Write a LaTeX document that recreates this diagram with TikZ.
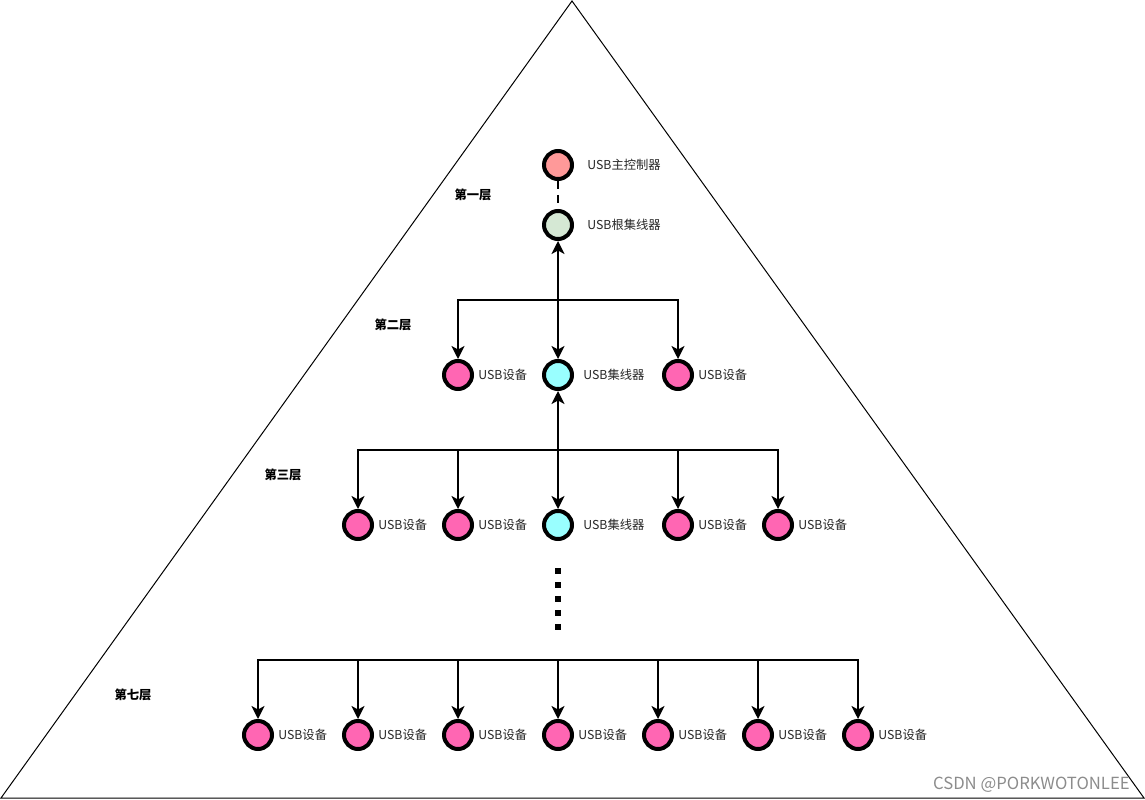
\documentclass[tikz,border=0pt]{standalone}
\usepackage{fontspec}
\newfontfamily\cjk{Noto Sans CJK SC}
\usetikzlibrary{arrows.meta, positioning}
\definecolor{ctrlfill}{HTML}{FF9999}
\definecolor{rootfill}{HTML}{D5E8D4}
\definecolor{hubfill}{HTML}{99FFFF}
\definecolor{devfill}{HTML}{FF66B3}
\tikzset{
  usbnode/.style={
    circle,
    draw=black,
    line width=0.08cm,
    minimum size=0.56cm,
    inner sep=0pt,
  },
  ctrlnode/.style={usbnode, fill=ctrlfill},
  rootnode/.style={usbnode, fill=rootfill},
  hubnode/.style={usbnode, fill=hubfill},
  devnode/.style={usbnode, fill=devfill},
  nlabel/.style={font=\cjk\fontsize{7}{8}\selectfont, anchor=west, inner sep=0pt, text=black!85},
  layerlabel/.style={font=\cjk\bfseries\fontsize{7}{8}\selectfont, inner sep=0pt},
  arr/.style={-{Stealth[length=2.6mm, width=2.6mm, inset=0.7mm]}, line width=0.045cm},
  darr/.style={{Stealth[length=2.6mm, width=2.6mm, inset=0.7mm]}-{Stealth[length=2.6mm, width=2.6mm, inset=0.7mm]}, line width=0.045cm},
}

\begin{document}
\begin{tikzpicture}[x=0.02cm, y=-0.02cm]
\useasboundingbox (0,0) rectangle (1145,800);

% --- Outer pyramid ---
\draw[line width=0.02cm] (572,1) -- (1,798) -- (1144,798) -- cycle;

% --- Layer captions ---
\node[layerlabel] (layer1) at (473,195) {第一层};
\node[layerlabel] (layer2) at (393,325) {第二层};
\node[layerlabel] (layer3) at (283,475) {第三层};
\node[layerlabel] (layer7) at (133,695) {第七层};

% --- Host controller and root hub ---
\node[ctrlnode] (ctrl) at (558,165) {};
\node[nlabel] (ctrllbl) at (587,165) {USB主控制器};
\node[rootnode] (root) at (558,225) {};
\node[nlabel] (rootlbl) at (587,225) {USB根集线器};

% --- Second layer ---
\node[devnode] (dev2a) at (458,375) {};
\node[nlabel] (dev2albl) at (478,375) {USB设备};
\node[hubnode] (hub2) at (558,375) {};
\node[nlabel] (hub2lbl) at (583,375) {USB集线器};
\node[devnode] (dev2b) at (678,375) {};
\node[nlabel] (dev2blbl) at (698,375) {USB设备};

% --- Third layer ---
\node[devnode] (dev3a) at (358,525) {};
\node[nlabel] (dev3albl) at (378,525) {USB设备};
\node[devnode] (dev3b) at (458,525) {};
\node[nlabel] (dev3blbl) at (478,525) {USB设备};
\node[hubnode] (hub3) at (558,525) {};
\node[nlabel] (hub3lbl) at (583,525) {USB集线器};
\node[devnode] (dev3c) at (678,525) {};
\node[nlabel] (dev3clbl) at (698,525) {USB设备};
\node[devnode] (dev3d) at (778,525) {};
\node[nlabel] (dev3dlbl) at (798,525) {USB设备};

% --- Seventh layer ---
\node[devnode] (dev7a) at (258,735) {};
\node[nlabel] (dev7albl) at (278,735) {USB设备};
\node[devnode] (dev7b) at (358,735) {};
\node[nlabel] (dev7blbl) at (378,735) {USB设备};
\node[devnode] (dev7c) at (458,735) {};
\node[nlabel] (dev7clbl) at (478,735) {USB设备};
\node[devnode] (dev7d) at (558,735) {};
\node[nlabel] (dev7dlbl) at (578,735) {USB设备};
\node[devnode] (dev7e) at (658,735) {};
\node[nlabel] (dev7elbl) at (678,735) {USB设备};
\node[devnode] (dev7f) at (758,735) {};
\node[nlabel] (dev7flbl) at (778,735) {USB设备};
\node[devnode] (dev7g) at (858,735) {};
\node[nlabel] (dev7glbl) at (878,735) {USB设备};

% --- Bus junctions ---
\coordinate (bus2) at (558,300);
\coordinate (bus3) at (558,450);
\coordinate (bus7) at (558,660);

% --- Controller to root hub ---
\draw[line width=0.04cm, dash pattern=on 0.16cm off 0.12cm] (ctrl.south) -- (root.north);

% --- Root hub to second layer ---
\draw[darr] (root.south) -- (hub2.north);
\draw[arr] (bus2) -| (dev2a.north);
\draw[arr] (bus2) -| (dev2b.north);

% --- Hub to third layer ---
\draw[darr] (hub2.south) -- (hub3.north);
\draw[arr] (bus3) -| (dev3a.north);
\draw[arr] (bus3) -| (dev3b.north);
\draw[arr] (bus3) -| (dev3c.north);
\draw[arr] (bus3) -| (dev3d.north);

% --- Omitted layers ---
\draw[line width=0.12cm, dash pattern=on 0.12cm off 0.16cm] (558,568) -- (558,632);

% --- Seventh layer fan-out ---
\draw[arr] (bus7) -| (dev7a.north);
\draw[arr] (bus7) -| (dev7b.north);
\draw[arr] (bus7) -| (dev7c.north);
\draw[arr] (bus7) -- (dev7d.north);
\draw[arr] (bus7) -| (dev7e.north);
\draw[arr] (bus7) -| (dev7f.north);
\draw[arr] (bus7) -| (dev7g.north);

% --- Watermark ---
\node[font=\cjk\fontsize{9.5}{11}\selectfont, text=black!45, anchor=east, inner sep=0pt] (mark) at (1130,785) {CSDN @PORKWOTONLEE};

\end{tikzpicture}
\end{document}
